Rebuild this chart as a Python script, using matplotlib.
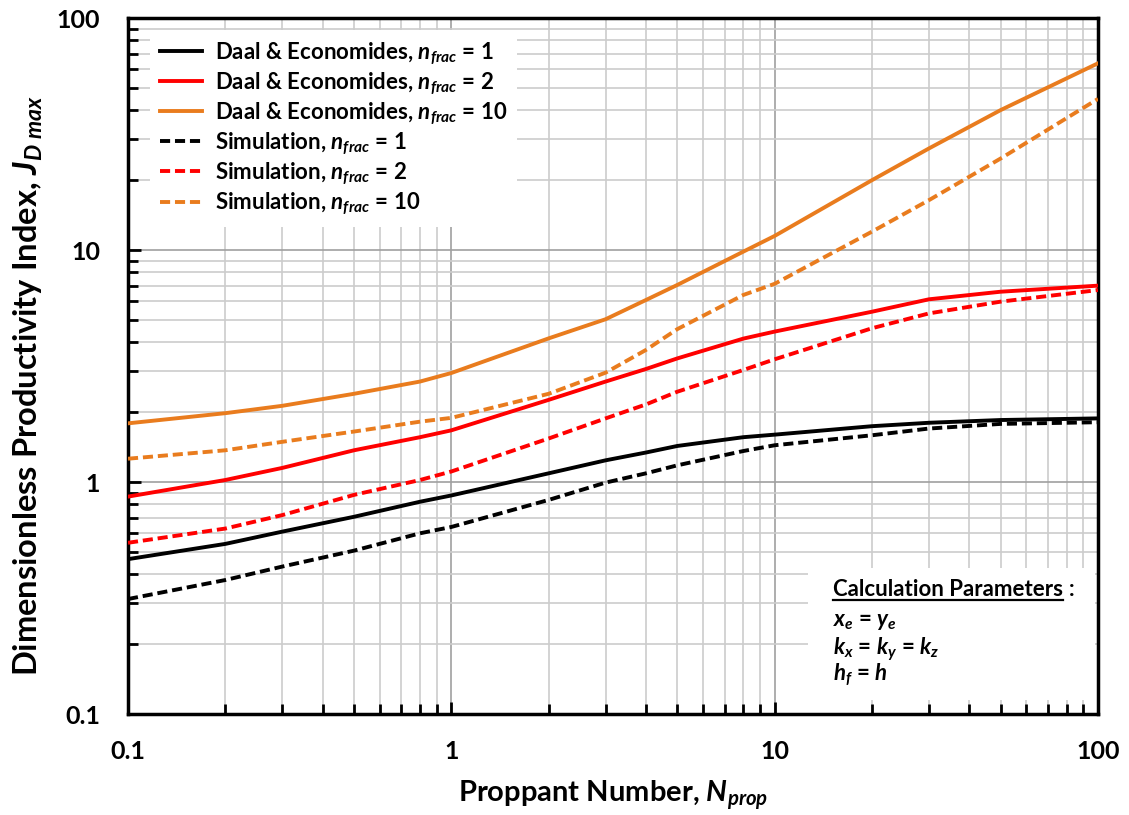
import matplotlib
matplotlib.use("Agg")
import matplotlib.pyplot as plt
from matplotlib.lines import Line2D
from matplotlib.patches import Rectangle
from matplotlib.ticker import LogLocator, NullFormatter, FixedLocator, FixedFormatter

plt.rcParams['font.family'] = ['Lato', 'DejaVu Sans']
plt.rcParams['mathtext.fontset'] = 'custom'
plt.rcParams['mathtext.rm'] = 'Lato'
plt.rcParams['mathtext.it'] = 'Lato:italic:bold'
plt.rcParams['mathtext.bf'] = 'Lato:bold'
try:
    plt.rcParams['mathtext.bfit'] = 'Lato:bold:italic'
except KeyError:
    pass

# ---- data ----
n_prop = [0.1, 0.2, 0.3, 0.5, 0.8, 1, 2, 3, 4, 5, 8, 10, 20, 30, 50, 100]
daal_n1 = [0.465, 0.541, 0.611, 0.708, 0.822, 0.875, 1.09, 1.24, 1.34, 1.43, 1.56, 1.60, 1.74, 1.80, 1.85, 1.88]
daal_n2 = [0.865, 1.02, 1.15, 1.37, 1.56, 1.67, 2.26, 2.71, 3.07, 3.41, 4.15, 4.45, 5.42, 6.13, 6.61, 7.02]
daal_n10 = [1.79, 1.98, 2.13, 2.40, 2.71, 2.95, 4.16, 5.03, 6.09, 7.07, 9.84, 11.5, 20.0, 27.4, 40.1, 63.8]
sim_n1 = [0.313, 0.378, 0.432, 0.506, 0.601, 0.64, 0.837, 0.994, 1.09, 1.18, 1.36, 1.44, 1.59, 1.70, 1.78, 1.81]
sim_n2 = [0.547, 0.63, 0.72, 0.88, 1.02, 1.11, 1.54, 1.88, 2.16, 2.45, 3.04, 3.38, 4.60, 5.33, 5.99, 6.72]
sim_n10 = [1.26, 1.37, 1.49, 1.65, 1.82, 1.89, 2.40, 2.96, 3.71, 4.56, 6.40, 7.15, 12.0, 16.4, 24.8, 44.8]

x_ticks = [0.1, 1, 10, 100]
x_tick_labels = ["0.1", "1", "10", "100"]
y_ticks = [0.1, 1, 10, 100]
y_tick_labels = ["0.1", "1", "10", "100"]

param_title = "Calculation Parameters"
param_lines = [
    r"$\mathbfit{x}_{\mathbfit{e}}$ = $\mathbfit{y}_{\mathbfit{e}}$",
    r"$\mathbfit{k}_{\mathbfit{x}}$ = $\mathbfit{k}_{\mathbfit{y}}$ = $\mathbfit{k}_{\mathbfit{z}}$",
    r"$\mathbfit{h}_{\mathbfit{f}}$ = $\mathbfit{h}$",
]

BLACK = "#000000"
RED = "#FF0000"
ORANGE = "#E97C1E"

W, H = 1129, 815
fig = plt.figure(figsize=(W / 100, H / 100), dpi=100)
AX_L, AX_R, AX_T, AX_B = 128, 1098, 18, 714
ax = fig.add_axes([AX_L / W, (H - AX_B) / H, (AX_R - AX_L) / W, (AX_B - AX_T) / H])


def ax_x(px):
    return (px - AX_L) / (AX_R - AX_L)


def ax_y(py):
    return (AX_B - py) / (AX_B - AX_T)


ax.set_xscale('log')
ax.set_yscale('log')
ax.set_xlim(0.1, 100)
ax.set_ylim(0.1, 100)

lw = 2.8
dash = (2.6, 1.25)
series = [
    (daal_n1, BLACK, '-', r"Daal & Economides, $\mathbfit{n}_{\mathbfit{frac}}$ = 1"),
    (daal_n2, RED, '-', r"Daal & Economides, $\mathbfit{n}_{\mathbfit{frac}}$ = 2"),
    (daal_n10, ORANGE, '-', r"Daal & Economides, $\mathbfit{n}_{\mathbfit{frac}}$ = 10"),
    (sim_n1, BLACK, '--', r"Simulation, $\mathbfit{n}_{\mathbfit{frac}}$ = 1"),
    (sim_n2, RED, '--', r"Simulation, $\mathbfit{n}_{\mathbfit{frac}}$ = 2"),
    (sim_n10, ORANGE, '--', r"Simulation, $\mathbfit{n}_{\mathbfit{frac}}$ = 10"),
]
for y, c, ls, lab in series:
    line, = ax.plot(n_prop, y, color=c, lw=lw, ls=ls, label=lab, zorder=3,
                    solid_joinstyle='round', dash_capstyle='butt')
    if ls == '--':
        line.set_dashes(dash)

# grid
ax.grid(True, which='major', color='#A0A0A0', lw=1.2, zorder=0)
ax.grid(True, which='minor', color='#CCCCCC', lw=1.2, zorder=0)
ax.set_axisbelow(True)

# ticks
ax.xaxis.set_major_locator(FixedLocator(x_ticks))
ax.xaxis.set_major_formatter(FixedFormatter(x_tick_labels))
ax.yaxis.set_major_locator(FixedLocator(y_ticks))
ax.yaxis.set_major_formatter(FixedFormatter(y_tick_labels))
ax.xaxis.set_minor_locator(LogLocator(base=10, subs=range(2, 10)))
ax.yaxis.set_minor_locator(LogLocator(base=10, subs=range(2, 10)))
ax.xaxis.set_minor_formatter(NullFormatter())
ax.yaxis.set_minor_formatter(NullFormatter())
ax.tick_params(which='both', direction='in', width=2, color='black')
ax.tick_params(which='major', length=9)
ax.tick_params(which='minor', length=7)
ax.tick_params(axis='x', which='major', pad=19, labelsize=18)
ax.tick_params(axis='y', which='major', pad=20, labelsize=18)
for lab in ax.get_xticklabels() + ax.get_yticklabels():
    lab.set_fontweight('bold')

for sp in ax.spines.values():
    sp.set_linewidth(2.5)
    sp.set_color('black')

ax.set_xlabel(r"Proppant Number, $\mathbfit{N}_{\mathbfit{prop}}$", fontsize=21, fontweight='bold')
ax.xaxis.set_label_coords(0.5, ax_y(802))
ax.xaxis.label.set_va('baseline')
ax.set_ylabel(r"Dimensionless Productivity Index, $\mathbfit{J}_{\mathbfit{D\ max}}$", fontsize=23.5, fontweight='bold')
ax.yaxis.set_label_coords(ax_x(45), ax_y(386))

leg = ax.legend(loc='upper left', bbox_to_anchor=(ax_x(139), ax_y(19)), frameon=True, fancybox=False,
                facecolor='white', edgecolor='none', framealpha=1.0,
                prop={'weight': 'bold', 'size': 16}, handlelength=1.9, handletextpad=0.55,
                labelspacing=0.16, borderpad=0.45)
leg.set_zorder(5)

# white box behind the calculation parameters
ax.add_patch(Rectangle((ax_x(808), ax_y(700)), ax_x(1095) - ax_x(808), ax_y(568) - ax_y(700),
                       transform=ax.transAxes, facecolor='white', edgecolor='none', zorder=1))

t_title = ax.text(ax_x(833), ax_y(590), param_title, transform=ax.transAxes, fontsize=16,
                  fontweight='bold', va='center', ha='left', zorder=6)
line_y = [622, 649, 675]
for s, py in zip(param_lines, line_y):
    ax.text(ax_x(833), ax_y(py), s, transform=ax.transAxes, fontsize=16, fontweight='bold',
            va='center', ha='left', zorder=6)

fig.canvas.draw()
r = fig.canvas.get_renderer()
bb = t_title.get_window_extent(renderer=r)
ax.text(ax_x(bb.x1 + 6), ax_y(590), ":", transform=ax.transAxes, fontsize=16,
        fontweight='bold', va='center', ha='left', zorder=6)
uy = (bb.y0 + 1) / H
fig.add_artist(Line2D([bb.x0 / W, bb.x1 / W], [uy, uy], transform=fig.transFigure,
                      color='black', lw=1.6, zorder=10))

fig.savefig("out.png", dpi=100)
